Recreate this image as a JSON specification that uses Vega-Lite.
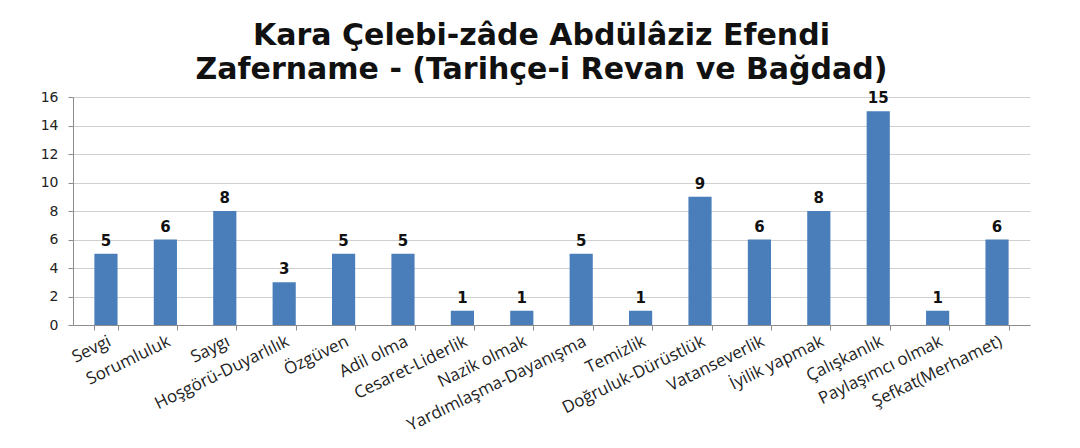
{
  "$schema": "https://vega.github.io/schema/vega-lite/v6.json",
  "autosize": "none",
  "width": 957,
  "height": 228,
  "padding": {"left": 73, "top": 97, "right": 50, "bottom": 123},
  "background": "white",
  "title": {
    "text": ["Kara Çelebi-zâde Abdülâziz Efendi", "Zafername - (Tarihçe-i Revan ve Bağdad)"],
    "font": "DejaVu Sans",
    "fontWeight": "bold",
    "fontSize": 30,
    "lineHeight": 34,
    "color": "#111111",
    "anchor": "middle",
    "dx": -10,
    "offset": 5
  },
  "data": {
    "values": [
      {"k": "Sevgi", "v": 5},
      {"k": "Sorumluluk", "v": 6},
      {"k": "Saygı", "v": 8},
      {"k": "Hoşgörü-Duyarlılık", "v": 3},
      {"k": "Özgüven", "v": 5},
      {"k": "Adil olma", "v": 5},
      {"k": "Cesaret-Liderlik", "v": 1},
      {"k": "Nazik olmak", "v": 1},
      {"k": "Yardımlaşma-Dayanışma", "v": 5},
      {"k": "Temizlik", "v": 1},
      {"k": "Doğruluk-Dürüstlük", "v": 9},
      {"k": "Vatanseverlik", "v": 6},
      {"k": "İyilik yapmak", "v": 8},
      {"k": "Çalışkanlık", "v": 15},
      {"k": "Paylaşımcı olmak", "v": 1},
      {"k": "Şefkat(Merhamet)", "v": 6}
    ]
  },
  "encoding": {
    "x": {
      "field": "k", "type": "nominal", "sort": null, "title": null,
      "scale": {"paddingInner": 0.61, "paddingOuter": 0.36},
      "axis": {
        "labelAngle": -26, "labelFont": "Open Sans", "labelFontSize": 17, "labelColor": "#222222",
        "labelLimit": 400, "labelOverlap": false,
        "domainColor": "#8c8c8c", "tickColor": "#8c8c8c", "tickBand": "extent", "tickSize": 5,
        "labelPadding": 3, "grid": false
      }
    },
    "y": {
      "field": "v", "type": "quantitative", "title": null,
      "scale": {"domain": [0, 16]},
      "axis": {
        "values": [0, 2, 4, 6, 8, 10, 12, 14, 16],
        "labelFont": "DejaVu Sans", "labelFontSize": 14, "labelColor": "#222222",
        "domainColor": "#8c8c8c", "tickColor": "#8c8c8c", "tickSize": 5,
        "gridColor": "#d0d0d0", "labelPadding": 10
      }
    }
  },
  "layer": [
    {"mark": {"type": "bar", "color": "#4a7ebb"}},
    {
      "mark": {"type": "text", "dy": -13, "font": "DejaVu Sans", "fontWeight": "bold", "fontSize": 15, "color": "#111111"},
      "encoding": {"text": {"field": "v", "type": "quantitative"}}
    }
  ],
  "config": {"view": {"stroke": null}}
}
